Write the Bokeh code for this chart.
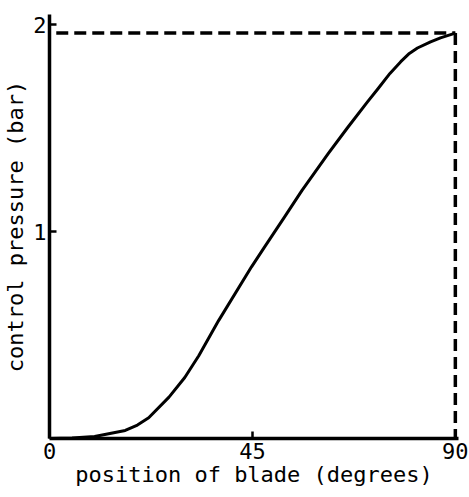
from bokeh.plotting import figure
from bokeh.models import Range1d, FixedTicker
from bokeh.embed import file_html
from bokeh.resources import INLINE

# Data
position_deg = [0, 5, 10, 16.8, 19.5, 22, 26.5, 30, 33.1, 37.5, 44.8, 47.6, 52.1, 56, 61.8, 66, 70.6, 72.8, 75.5, 77.9, 79.8, 81.6, 84.5, 86.7, 90.0]
pressure_bar = [0, 0.003, 0.01, 0.039, 0.065, 0.10, 0.20, 0.295, 0.40, 0.57, 0.83, 0.923, 1.07, 1.20, 1.377, 1.50, 1.63, 1.69, 1.765, 1.822, 1.862, 1.888, 1.918, 1.937, 1.96]

x_ticks = [0, 45, 90]
y_ticks = [1, 2]
ref_pressure = 1.96
ref_position = 90

FONT = "DejaVu Sans Mono"

p = figure(width=469, height=497, output_backend="svg", toolbar_location=None,
           x_range=Range1d(0, 90.7), y_range=Range1d(0, 2.05),
           min_border_left=47, min_border_right=11, min_border_top=14, min_border_bottom=59)
p.grid.visible = False
p.outline_line_color = None
p.background_fill_color = "white"

p.line(position_deg, pressure_bar, line_width=3, line_color="black", line_join="round")
p.line([1.5, ref_position], [ref_pressure, ref_pressure], line_width=3.5, line_color="black", line_dash="12 6")
p.line([ref_position, ref_position], [ref_pressure, 0], line_width=3.5, line_color="black", line_dash="12 6")

for ax, ticks in ((p.xaxis[0], x_ticks), (p.yaxis[0], y_ticks)):
    ax.ticker = FixedTicker(ticks=ticks)
    ax.minor_tick_line_color = None
    ax.major_tick_in = 7
    ax.major_tick_out = 0
    ax.major_tick_line_width = 2.5
    ax.axis_line_width = 3.5
    ax.axis_line_color = "black"
    ax.major_label_text_font = FONT
    ax.major_label_text_font_size = "22px"
    ax.major_label_text_color = "black"
    ax.axis_label_text_font = FONT
    ax.axis_label_text_font_size = "22px"
    ax.axis_label_text_font_style = "normal"
    ax.axis_label_text_color = "black"

p.xaxis.axis_label = "position of blade (degrees)"
p.yaxis.axis_label = "control pressure (bar)"
p.xaxis.major_label_standoff = 4
p.yaxis.major_label_standoff = 3
p.xaxis.axis_label_standoff = 0
p.yaxis.axis_label_standoff = 2

open("out.html", "w").write(file_html(p, INLINE))
